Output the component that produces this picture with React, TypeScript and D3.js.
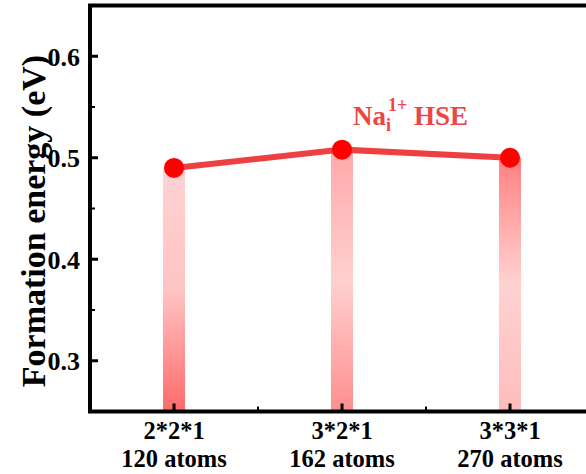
import React from "react";
import * as d3 from "d3";

const cells = ["2*2*1", "3*2*1", "3*3*1"];
const atoms = ["120 atoms", "162 atoms", "270 atoms"];
const energies = [0.49, 0.508, 0.5];
const yTicks = [0.3, 0.4, 0.5, 0.6];
const yMinor = [0.35, 0.45, 0.55];
const xMinor = [1.5, 2.5];

// gradient stops for each bar (top -> bottom)
const barStops = [
  ["#ffd2d2", "#ffc4c4", "#ff6a6a"],
  ["#ffa8a8", "#ffd0d0", "#ff8e8e"],
  ["#ff8080", "#ffd2d2", "#ffbcbc"],
];

const width = 586;
const height = 474;
const font = "Liberation Serif, Times New Roman, serif";

export default function App() {
  // right edge of the frame sits just off the canvas, as in the original
  const x = d3.scaleLinear().domain([0.5, 3.5]).range([90, 594]);
  const y = d3.scaleLinear().domain([0.25, 0.65]).range([411.5, 5.5]);

  const y0 = y(0.25);
  const line = d3
    .line<number>()
    .x((d, i) => x(i + 1))
    .y((d) => y(d));

  return (
    <svg
      width={width}
      height={height}
      style={{ position: "absolute", left: 0, top: 0, fontFamily: font }}
    >
      <defs>
        {barStops.map((s, i) => (
          <linearGradient key={i} id={`bar${i}`} x1="0" y1="0" x2="0" y2="1">
            <stop offset="0%" stopColor={s[0]} />
            <stop offset="50%" stopColor={s[1]} />
            <stop offset="100%" stopColor={s[2]} />
          </linearGradient>
        ))}
      </defs>

      {energies.map((v, i) => (
        <rect
          key={i}
          x={x(i + 1) - 11}
          y={y(v)}
          width={22}
          height={y0 - y(v)}
          fill={`url(#bar${i})`}
        />
      ))}

      <path
        d={line(energies) || ""}
        fill="none"
        stroke="#ee4040"
        strokeWidth={6}
      />
      {energies.map((v, i) => (
        <circle key={i} cx={x(i + 1)} cy={y(v)} r={10} fill="#ff0000" />
      ))}

      <text x={353} y={125} fill="#ee4444" fontWeight="bold" fontSize={27}>
        Na
        <tspan fontSize={18} dy={6}>
          i
        </tspan>
        <tspan fontSize={18} dx={-3} dy={-20}>
          1+
        </tspan>
        <tspan dy={14}> HSE</tspan>
      </text>

      {/* frame */}
      <rect
        x={x(0.5)}
        y={y(0.65)}
        width={x(3.5) - x(0.5)}
        height={y0 - y(0.65)}
        fill="none"
        stroke="#000"
        strokeWidth={4}
      />

      {/* y ticks */}
      {yTicks.map((t) => (
        <g key={t}>
          <line
            x1={x(0.5)}
            x2={x(0.5) + 8}
            y1={y(t)}
            y2={y(t)}
            stroke="#000"
            strokeWidth={3}
          />
          <text
            x={80}
            y={y(t)}
            dy="0.36em"
            textAnchor="end"
            fontWeight="bold"
            fontSize={26}
          >
            {t.toFixed(1)}
          </text>
        </g>
      ))}
      {yMinor.map((t) => (
        <line
          key={t}
          x1={x(0.5)}
          x2={x(0.5) + 5}
          y1={y(t)}
          y2={y(t)}
          stroke="#000"
          strokeWidth={2}
        />
      ))}

      {/* x ticks */}
      {cells.map((c, i) => (
        <g key={c}>
          <line
            x1={x(i + 1)}
            x2={x(i + 1)}
            y1={y0}
            y2={y0 - 8}
            stroke="#000"
            strokeWidth={3}
          />
          <text
            x={x(i + 1)}
            y={439}
            textAnchor="middle"
            fontWeight="bold"
            fontSize={24.5}
          >
            {c}
          </text>
          <text
            x={x(i + 1)}
            y={467}
            textAnchor="middle"
            fontWeight="bold"
            fontSize={24.5}
          >
            {atoms[i]}
          </text>
        </g>
      ))}
      {xMinor.map((t) => (
        <line
          key={t}
          x1={x(t)}
          x2={x(t)}
          y1={y0}
          y2={y0 - 5}
          stroke="#000"
          strokeWidth={2}
        />
      ))}

      <text
        transform={`translate(45,221) rotate(-90)`}
        textAnchor="middle"
        fontWeight="bold"
        fontSize={34}
      >
        Formation energy (eV)
      </text>
    </svg>
  );
}
